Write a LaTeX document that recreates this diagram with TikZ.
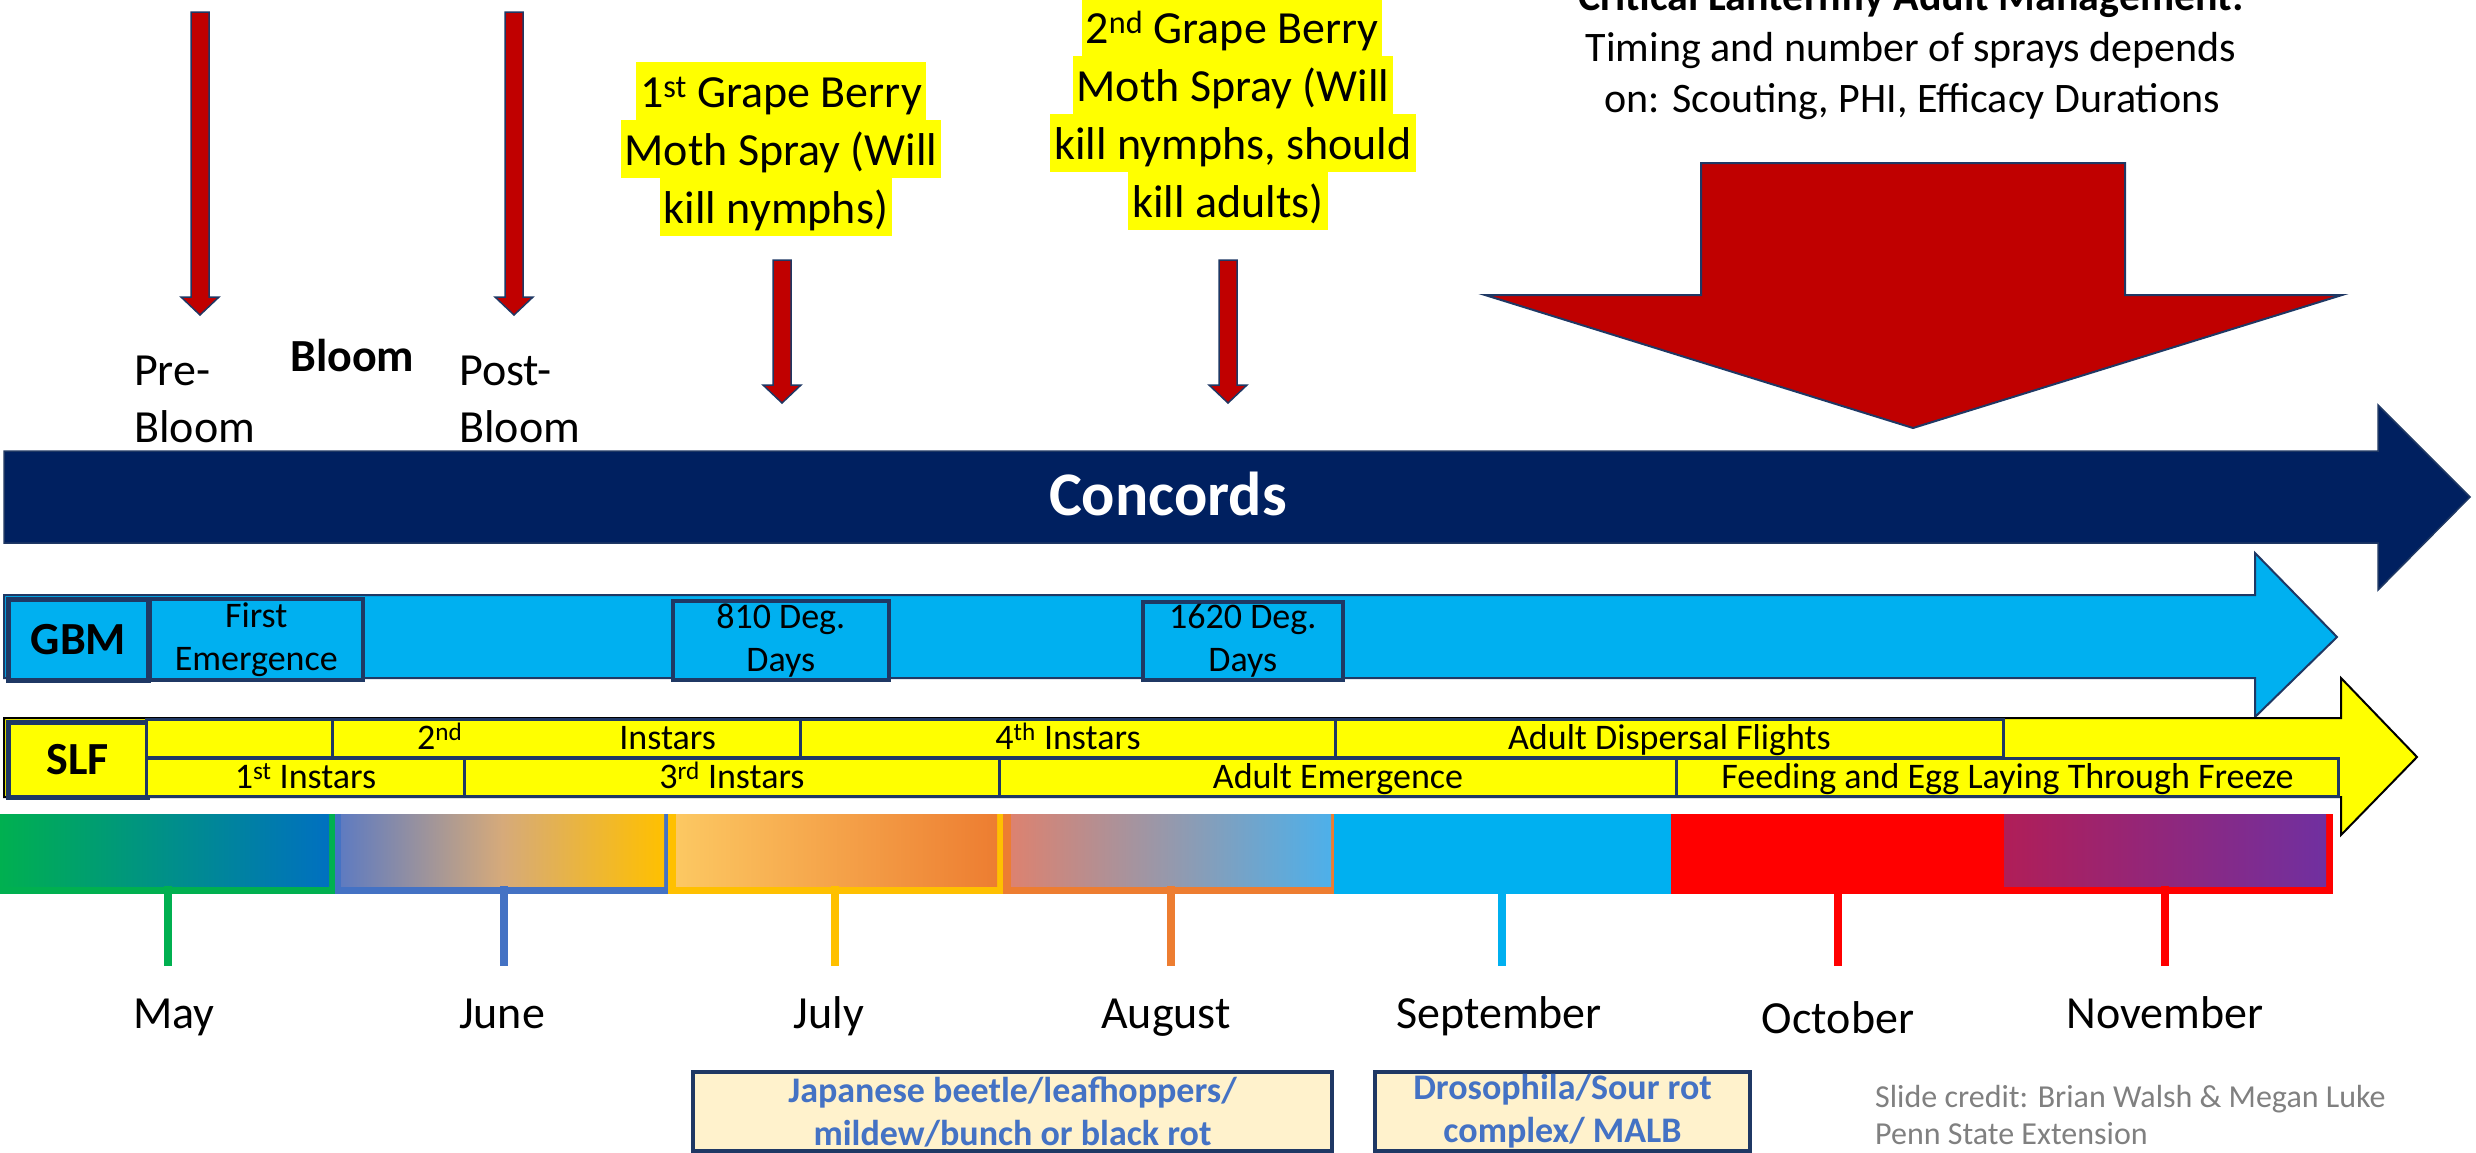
\documentclass[tikz,border=0pt]{standalone}
\usepackage{fontspec}
\setmainfont{Carlito}
\definecolor{navy}{HTML}{002060}
\definecolor{bord}{HTML}{1F3864}
\definecolor{sky}{HTML}{00B0F0}
\definecolor{ylw}{HTML}{FFFF00}
\definecolor{dred}{HTML}{C00000}
\definecolor{cream}{HTML}{FFF2CC}
\definecolor{tblue}{HTML}{4472C4}
\definecolor{credit}{HTML}{808080}
\definecolor{mgreen}{HTML}{00B050}
\definecolor{mblue}{HTML}{0070C0}
\definecolor{gold}{HTML}{FFC000}
\definecolor{lorng}{HTML}{FCC862}
\definecolor{orng}{HTML}{ED7D31}
\definecolor{salmon}{HTML}{DC8270}
\definecolor{lsky}{HTML}{4DB0EA}
\definecolor{jleft}{HTML}{5F7BC0}
\definecolor{jmid}{HTML}{D6AA7A}
\definecolor{rd}{HTML}{FF0000}
\definecolor{purp}{HTML}{7030A0}
\definecolor{crim}{HTML}{B01E58}
\newcommand\fs[2]{\fontsize{#1}{#2}\selectfont}
\newcommand\tlbox[7]{\node[#6, minimum width={(#4-#2)*1pt}, minimum height={(#5-#3)*1pt}, anchor=north west] (#1) at (#2,#3) {#7};}
\newcommand\redarrow[6]{\filldraw[redar] (#1-#5,#2) -- (#1+#5,#2) -- (#1+#5,#3) -- (#1+#6,#3) -- (#1,#4) -- (#1-#6,#3) -- (#1-#5,#3) -- cycle;}
\begin{document}
\begin{tikzpicture}[x=1pt,y=-1pt,
  redar/.style={draw=bord, fill=dred, line width=1.5pt, line join=miter},
  lbl/.style={inner sep=0pt, font=\fs{46}{57}},
  hl/.style={fill=ylw, inner xsep=4pt, inner ysep=0pt, text height=45pt, text depth=13pt, anchor=base, font=\fs{46}{58}},
  crit/.style={inner sep=0pt, anchor=base, font=\fs{42}{52}},
  gbox/.style={draw=bord, line width=3.5pt, fill=sky, inner sep=0pt, align=center, font=\fs{36}{43}},
  sbox/.style={draw=bord, line width=3pt, fill=ylw, inner sep=0pt, text height=29pt, text depth=7pt, font=\fs{36}{43}},
  biglab/.style={inner sep=0pt, font=\bfseries\fs{46}{55}},
  crbox/.style={draw=bord, line width=4pt, fill=cream, text=tblue, inner sep=0pt, align=center, font=\bfseries\fs{36}{43}},
  month/.style={inner sep=0pt, anchor=base, font=\fs{46}{57}},
  tick/.style={line width=8pt}]
\useasboundingbox (0,0) rectangle (2476,1152);
\clip (0,0) rectangle (2476,1152);

% top red arrows
\redarrow{200}{12}{297}{315}{9}{19}
\redarrow{514}{12}{297}{315}{9}{19}
\redarrow{782}{260}{385}{403}{9}{19}
\redarrow{1228}{260}{385}{403}{9}{19}

% big red arrow
\filldraw[redar, line width=2pt] (1701,163) -- (2125,163) -- (2125,295) -- (2342,295) -- (1913,428) -- (1485,295) -- (1701,295) -- cycle;

% bloom labels
\node[lbl, anchor=base west] (pre1) at (134,385) {Pre-};
\node[lbl, anchor=base west] (pre2) at (134,442) {Bloom};
\node[lbl, anchor=base west, font=\bfseries\fs{46}{57}] (bloom) at (290,371) {Bloom};
\node[lbl, anchor=base west] (post1) at (459,385) {Post-};
\node[lbl, anchor=base west] (post2) at (459,442) {Bloom};

% spray texts
\node[hl] (s1a) at (781,107) {1\textsuperscript{st} Grape Berry};
\node[hl] (s1b) at (781,165) {Moth Spray (Will};
\node[hl] (s1c) at (776,223) {kill nymphs)};
\node[hl] (s2a) at (1232,43) {2\textsuperscript{nd} Grape Berry};
\node[hl] (s2b) at (1233,101) {Moth Spray (Will};
\node[hl] (s2c) at (1233,159) {kill nymphs, should};
\node[hl] (s2d) at (1228,217) {kill adults)};

% critical text
\node[crit, font=\bfseries\fs{42}{52}] (crit0) at (1911,10) {Critical Lanternfly Adult Management:};
\node[crit] (crit1) at (1911,61) {Timing and number of sprays depends};
\node[crit] (crit2) at (1912,112) {on: Scouting, PHI, Efficacy Durations};

% Concords arrow
\filldraw[fill=navy, draw=bord, line width=1.5pt] (4,451) -- (2378,451) -- (2378,405) -- (2470,497) -- (2378,590) -- (2378,543) -- (4,543) -- cycle;
\node[inner sep=0pt, anchor=base, text=white, font=\bfseries\fs{62}{74}] (concords) at (1168,515) {Concords};

% GBM arrow
\filldraw[fill=sky, draw=bord, line width=2pt] (4,595) -- (2255,595) -- (2255,553) -- (2337,637) -- (2255,717) -- (2255,678) -- (4,678) -- cycle;
\tlbox{gbm}{6}{597}{146}{678}{draw=bord, line width=5pt, fill=sky, biglab}{GBM}
\tlbox{fe}{148}{597}{361}{678}{gbox}{First\\Emergence}
\tlbox{d810}{671}{599}{887}{678}{gbox}{810 Deg.\\Days}
\tlbox{d1620}{1141}{600}{1341}{678}{gbox}{1620 Deg.\\Days}

% SLF arrow
\filldraw[fill=ylw, draw=black, line width=2pt] (4,718) -- (2341,718) -- (2341,678) -- (2417,757) -- (2341,835) -- (2341,797) -- (4,797) -- cycle;
\tlbox{slf}{6}{720}{145}{795}{draw=bord, line width=4.5pt, fill=ylw, biglab}{SLF}
\tlbox{r0}{145}{718}{331}{756}{sbox}{}
\tlbox{i2}{331}{718}{799}{756}{sbox}{2\textsuperscript{nd}\hspace{157pt}Instars}
\tlbox{i4}{799}{718}{1334}{756}{sbox}{4\textsuperscript{th} Instars}
\tlbox{adf}{1334}{718}{2002}{756}{sbox}{Adult Dispersal Flights}
\tlbox{i1}{145}{757}{463}{795}{sbox}{1\textsuperscript{st} Instars}
\tlbox{i3}{463}{757}{998}{795}{sbox}{3\textsuperscript{rd} Instars}
\tlbox{ae}{998}{757}{1675}{795}{sbox}{Adult Emergence}
\tlbox{fel}{1675}{757}{2337}{795}{sbox}{Feeding and Egg Laying Through Freeze}

% month band
\fill[mgreen] (0,814) rectangle (335,894);
\shade[left color=mgreen, right color=mblue] (0,814) rectangle (329,886);
\fill[tblue] (335,814) rectangle (668,894);
\shade[left color=jleft, right color=gold, middle color=jmid] (341,814) rectangle (664,886);
\fill[gold] (668,814) rectangle (1003,894);
\shade[left color=lorng, right color=orng] (676,814) rectangle (997,886);
\fill[orng] (1003,814) rectangle (1334,894);
\shade[left color=salmon, right color=lsky] (1011,814) rectangle (1331,886);
\fill[sky] (1334,814) rectangle (1671,894);
\fill[rd] (1671,814) rectangle (2004,894);
\fill[rd] (2004,814) rectangle (2333,894);
\shade[left color=crim, right color=purp] (2004,814) rectangle (2326,886);

% ticks
\foreach \n/\x/\c in {may/168/mgreen, jun/504/tblue, jul/835/gold, aug/1171/orng, sep/1502/sky, oct/1838/rd, nov/2165/rd}{
  \coordinate (\n t) at (\x,886);
  \coordinate (\n b) at (\x,966);
  \draw[tick, draw=\c] (\n t) -- (\n b);
}

% months
\node[month] (may) at (174,1028) {May};
\node[month] (jun) at (502,1028) {June};
\node[month] (jul) at (829,1028) {July};
\node[month] (aug) at (1166,1028) {August};
\node[month] (sep) at (1499,1028) {September};
\node[month] (oct) at (1838,1033) {October};
\node[month] (nov) at (2165,1028) {November};

% bottom boxes
\tlbox{jb}{691}{1070}{1330}{1149}{crbox}{Japanese beetle/leafhoppers/\\mildew/bunch or black rot}
\tlbox{dr}{1373}{1070}{1748}{1149}{crbox}{Drosophila/Sour rot\\complex/ MALB}

% credit
\node[inner sep=0pt, anchor=base west, text=credit, font=\fs{32}{37}] (cr1) at (1875,1107) {Slide credit: Brian Walsh \& Megan Luke};
\node[inner sep=0pt, anchor=base west, text=credit, font=\fs{32}{37}] (cr2) at (1875,1144) {Penn State Extension};
\end{tikzpicture}
\end{document}
